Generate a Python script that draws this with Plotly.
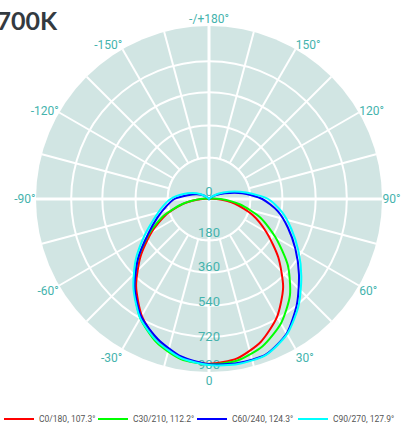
import plotly.graph_objects as go

# ---- data ----
angles = list(range(-180, 181, 10))

c0_180 = [0, 0, 0, 0, 0, 0, 0, 0, 5, 35, 130, 238, 345, 465, 590, 700, 785, 838,
          857,
          842, 790, 708, 600, 470, 345, 240, 135, 40, 5, 0, 0, 0, 0, 0, 0, 0, 0]
c30_210 = [0, 0, 0, 0, 0, 0, 0, 0, 10, 45, 135, 248, 360, 482, 605, 715, 795, 845,
           860,
           853, 815, 748, 655, 535, 400, 285, 165, 60, 15, 0, 0, 0, 0, 0, 0, 0, 0]
c60_240 = [0, 0, 0, 0, 5, 18, 45, 72, 112, 180, 227, 287, 366, 482, 602, 706, 776, 832,
           860,
           866, 862, 808, 712, 611, 519, 437, 363, 277, 175, 88, 42, 16, 5, 0, 0, 0, 0]
c90_270 = [0, 0, 0, 0, 5, 20, 50, 90, 140, 200, 248, 305, 390, 499, 611, 716, 788, 840,
           864,
           872, 864, 812, 725, 627, 537, 456, 385, 308, 195, 110, 55, 20, 5, 0, 0, 0, 0]

series_names = ["C0/180", "C30/210", "C60/240", "C90/270"]
beam_angles = [107.3, 112.2, 124.3, 127.9]
series_values = [c0_180, c30_210, c60_240, c90_270]
series_colors = ["#ff0000", "#00ff00", "#0000ff", "#00ffff"]

# radial value labels and the rings as they appear in the reference
radial_label_vals = [0, 180, 360, 540, 720, 900]
radial_label_text = ["0", "180", "360", "540", "720", "900"]
ring_vals = [215, 382, 555, 717, 900]

angular_tick_vals = list(range(0, 360, 15))
angular_tick_text = ["0", "", "30°", "", "60°", "", "90°", "", "120°", "", "150°", "",
                     "-/+180°", "", "-150°", "", "-120°", "", "-90°", "", "-60°", "", "-30°", ""]

title_text = "2700K"

# ---- styles ----
W, H = 403, 428
DISC = "#d1e5e3"
TEAL = "#45b3ad"
FONT = "Roboto"
legend_left_px = [-1, 93, 192, 293]   # one small legend per series, laid out in a row

fig = go.Figure()

rmax = ring_vals[-1]
rin = ring_vals[0]

# inner disc (spokes start at the first ring in the reference)
circle_theta = list(range(0, 361, 5))
fig.add_trace(go.Scatterpolar(
    r=[rin] * len(circle_theta), theta=circle_theta, mode="lines",
    fill="toself", fillcolor=DISC, line=dict(color="white", width=2),
    hoverinfo="skip", showlegend=False))

# main cross lines
fig.add_trace(go.Scatterpolar(
    r=[rmax, 0, rmax], theta=[0, 0, 180], mode="lines",
    line=dict(color="white", width=3), hoverinfo="skip", showlegend=False))
fig.add_trace(go.Scatterpolar(
    r=[rmax, 0, rmax], theta=[90, 90, 270], mode="lines",
    line=dict(color="white", width=3), hoverinfo="skip", showlegend=False))

# radial value labels along the 0° axis
label_pos = ["top center"] + ["middle center"] * (len(radial_label_vals) - 2) + ["top center"]
fig.add_trace(go.Scatterpolar(
    r=radial_label_vals, theta=[0] * len(radial_label_vals), mode="text",
    text=radial_label_text, textposition=label_pos,
    textfont=dict(family=FONT, size=13, color=TEAL),
    hoverinfo="skip", showlegend=False))

legend_layouts = {}
for i, (name, beam, vals, col) in enumerate(zip(series_names, beam_angles,
                                                 series_values, series_colors)):
    lg = "legend" if i == 0 else f"legend{i + 1}"
    fig.add_trace(go.Scatterpolar(
        r=vals, theta=angles, mode="lines",
        line=dict(color=col, width=2, shape="spline", smoothing=0.7),
        name=f"{name}, {beam}°", legend=lg, showlegend=True))
    legend_layouts[lg] = dict(
        x=legend_left_px[i] / W, y=9 / H, xanchor="left", yanchor="middle",
        orientation="h", bgcolor="rgba(0,0,0,0)", borderwidth=0,
        font=dict(family=FONT, size=8.5, color="#555555"))

fig.update_layout(
    width=W, height=H,
    margin=dict(l=0, r=0, t=0, b=0, autoexpand=False),
    paper_bgcolor="white",
    font=dict(family=FONT, color="#555555"),
    showlegend=True,
    polar=dict(
        domain=dict(x=[36 / W, 382 / W], y=[56 / H, 402 / H]),
        bgcolor=DISC,
        radialaxis=dict(range=[0, rmax], tickmode="array", tickvals=ring_vals,
                        showticklabels=False, ticks="", showline=False,
                        gridcolor="white", gridwidth=2),
        angularaxis=dict(rotation=-90, direction="counterclockwise",
                         tickmode="array", tickvals=angular_tick_vals,
                         ticktext=angular_tick_text, ticks="", showline=False,
                         gridcolor="white", gridwidth=2,
                         tickfont=dict(family=FONT, size=12, color=TEAL)),
    ),
    annotations=[dict(text=f"<b>{title_text}</b>", xref="paper", yref="paper",
                      x=-20 / W, y=1 - 20 / H, xanchor="left", yanchor="middle",
                      showarrow=False,
                      font=dict(family="Lato", size=25, color="#333a40"))],
    **legend_layouts,
)

fig.write_html("out.html", config={"displayModeBar": False},
               post_script="document.body.style.margin='0';document.body.style.overflow='hidden';")
